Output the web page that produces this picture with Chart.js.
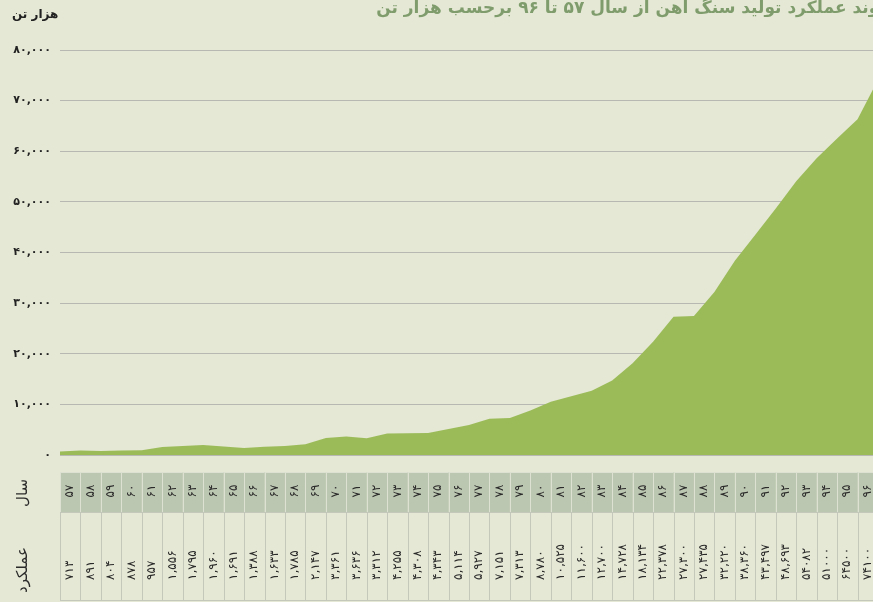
<!DOCTYPE html>
<html>
<head>
<meta charset="utf-8">
<script src="https://cdn.jsdelivr.net/npm/chart.js@4.4.1/dist/chart.umd.min.js"></script>
<style>
  html, body { margin: 0; padding: 0; background: #e4e8d4; overflow: hidden; }
  #wrap { width: 900px; height: 602px; }
</style>
</head>
<body>
<div id="wrap"><canvas id="myChart" width="900" height="602"></canvas></div>
<script>
// years shown in the table header row
var years = ['۵۷','۵۸','۵۹','۶۰','۶۱','۶۲','۶۳','۶۴','۶۵','۶۶','۶۷','۶۸','۶۹','۷۰','۷۱','۷۲','۷۳','۷۴','۷۵','۷۶',
             '۷۷','۷۸','۷۹','۸۰','۸۱','۸۲','۸۳','۸۴','۸۵','۸۶','۸۷','۸۸','۸۹','۹۰','۹۱','۹۲','۹۳','۹۴','۹۵','۹۶'];

// "عملکرد" row, as printed in the table
var tableValues = ['۷۱۳','۸۹۱','۸۰۴','۸۷۸','۹۵۷','۱,۵۵۶','۱,۷۹۵','۱,۹۶۰','۱,۶۹۱','۱,۳۸۸','۱,۶۳۳','۱,۷۸۵','۲,۱۴۷','۳,۳۶۱',
                   '۳,۶۳۶','۳,۳۱۲','۴,۲۵۵','۴,۳۰۸','۴,۳۴۳','۵,۱۱۴','۵,۹۲۷','۷,۱۵۱','۷,۳۱۳','۸,۷۸۰','۱۰,۵۲۵','۱۱,۶۰۰',
                   '۱۲,۷۰۰','۱۴,۷۲۸','۱۸,۱۳۴','۲۲,۳۷۸','۲۷,۳۰۰','۲۷,۴۳۵','۳۲,۲۲۰','۳۸,۳۶۰','۴۳,۴۹۷','۴۸,۶۹۳','۵۴۰۸۲',
                   '۵۱۰۰۰','۶۴۵۰۰','۷۴۱۰۰'];

// area series (thousand tonnes), one point per column edge as drawn in the picture
var production = [713, 891, 804, 878, 957, 1556, 1795, 1960, 1691, 1388, 1633, 1785, 2147, 3361, 3636, 3312,
                  4255, 4308, 4343, 5114, 5927, 7151, 7313, 8780, 10525, 11600, 12700, 14728, 18134, 22378,
                  27300, 27435, 32220, 38360, 43497, 48693, 54082, 58600, 62500, 66300, 74100];

var yTicks = [0, 10000, 20000, 30000, 40000, 50000, 60000, 70000, 80000];

var FONT = '"DejaVu Sans", sans-serif';

function toFa(n) {
    var s = n.toLocaleString('en-US');
    return s.replace(/[0-9]/g, function(d) { return '۰۱۲۳۴۵۶۷۸۹'[+d]; });
}

var decorations = {
    id: 'decorations',
    beforeDraw: function(chart) {
        var c = chart.ctx;
        c.save();
        c.fillStyle = '#e4e8d4';
        c.fillRect(0, 0, chart.width, chart.height);
        c.restore();
    },
    afterDraw: function(chart) {
        var c = chart.ctx;
        var xs = chart.scales.x;
        c.save();

        // title
        c.fillStyle = '#7f9c6c';
        c.font = 'bold 17px ' + FONT;
        c.textAlign = 'right';
        c.textBaseline = 'middle';
        c.fillText('روند عملکرد تولید سنگ آهن از سال ۵۷ تا ۹۶ برحسب هزار تن', 889, 9);

        // unit label
        c.fillStyle = '#222';
        c.font = 'bold 12px ' + FONT;
        c.textAlign = 'left';
        c.fillText('هزار تن', 12, 15);

        // table
        var hTop = 472.5, hBot = 512.5, vBot = 600.5;
        for (var i = 0; i < years.length; i++) {
            var x0 = xs.getPixelForValue(i), x1 = xs.getPixelForValue(i + 1);
            c.fillStyle = '#bcc7b1';
            c.fillRect(x0, hTop, x1 - x0, hBot - hTop);
            c.strokeStyle = '#dde1d1';
            c.lineWidth = 1;
            c.strokeRect(Math.round(x0) + 0.5, hTop, Math.round(x1) - Math.round(x0), hBot - hTop);
            c.strokeStyle = '#c3c8ba';
            c.strokeRect(Math.round(x0) + 0.5, hBot, Math.round(x1) - Math.round(x0), vBot - hBot);

            var xc = (x0 + x1) / 2;
            c.fillStyle = '#2a2a2a';
            c.font = '12px ' + FONT;
            c.save();
            c.translate(xc, 491);
            c.rotate(-Math.PI / 2);
            c.textAlign = 'center';
            c.textBaseline = 'middle';
            c.fillText(years[i], 0, 0);
            c.restore();

            c.save();
            c.translate(xc, 580);
            c.rotate(-Math.PI / 2);
            c.textAlign = 'left';
            c.textBaseline = 'middle';
            c.fillText(tableValues[i], 0, 0);
            c.restore();
        }

        // row labels
        c.font = '15px ' + FONT;
        c.fillStyle = '#2a2a2a';
        c.save();
        c.translate(23, 493);
        c.rotate(-Math.PI / 2);
        c.textAlign = 'center';
        c.textBaseline = 'middle';
        c.fillText('سال', 0, 0);
        c.restore();
        c.save();
        c.translate(23, 570);
        c.rotate(-Math.PI / 2);
        c.textAlign = 'center';
        c.textBaseline = 'middle';
        c.fillText('عملکرد', 0, 0);
        c.restore();

        c.restore();
    }
};

var ctx = document.getElementById('myChart');

var graphData = {
    type: 'line',
    data: {
        datasets: [{
            label: 'عملکرد',
            data: production.map(function(v, i) { return { x: i, y: v }; }),
            backgroundColor: '#9bbb59',
            borderWidth: 0,
            pointRadius: 0,
            tension: 0,
            fill: 'origin'
        }]
    },
    options: {
        responsive: false,
        animation: false,
        devicePixelRatio: 1,
        layout: { padding: { top: 50, bottom: 147, left: 0, right: 22 } },
        plugins: { legend: { display: false }, tooltip: { enabled: false } },
        scales: {
            x: { type: 'linear', min: 0, max: 40, display: false },
            y: {
                min: 0,
                max: 80000,
                afterBuildTicks: function(scale) {
                    scale.ticks = yTicks.map(function(v) { return { value: v }; });
                },
                afterFit: function(scale) { scale.width = 60; },
                ticks: {
                    padding: 9,
                    color: '#222',
                    font: { family: FONT, size: 11, weight: 'bold' },
                    callback: function(value) { return toFa(value); }
                },
                grid: { color: '#b8b8b2', lineWidth: 1, drawTicks: false },
                border: { display: false }
            }
        }
    },
    plugins: [decorations]
};

var myChart = new Chart(ctx, graphData);
</script>
</body>
</html>
